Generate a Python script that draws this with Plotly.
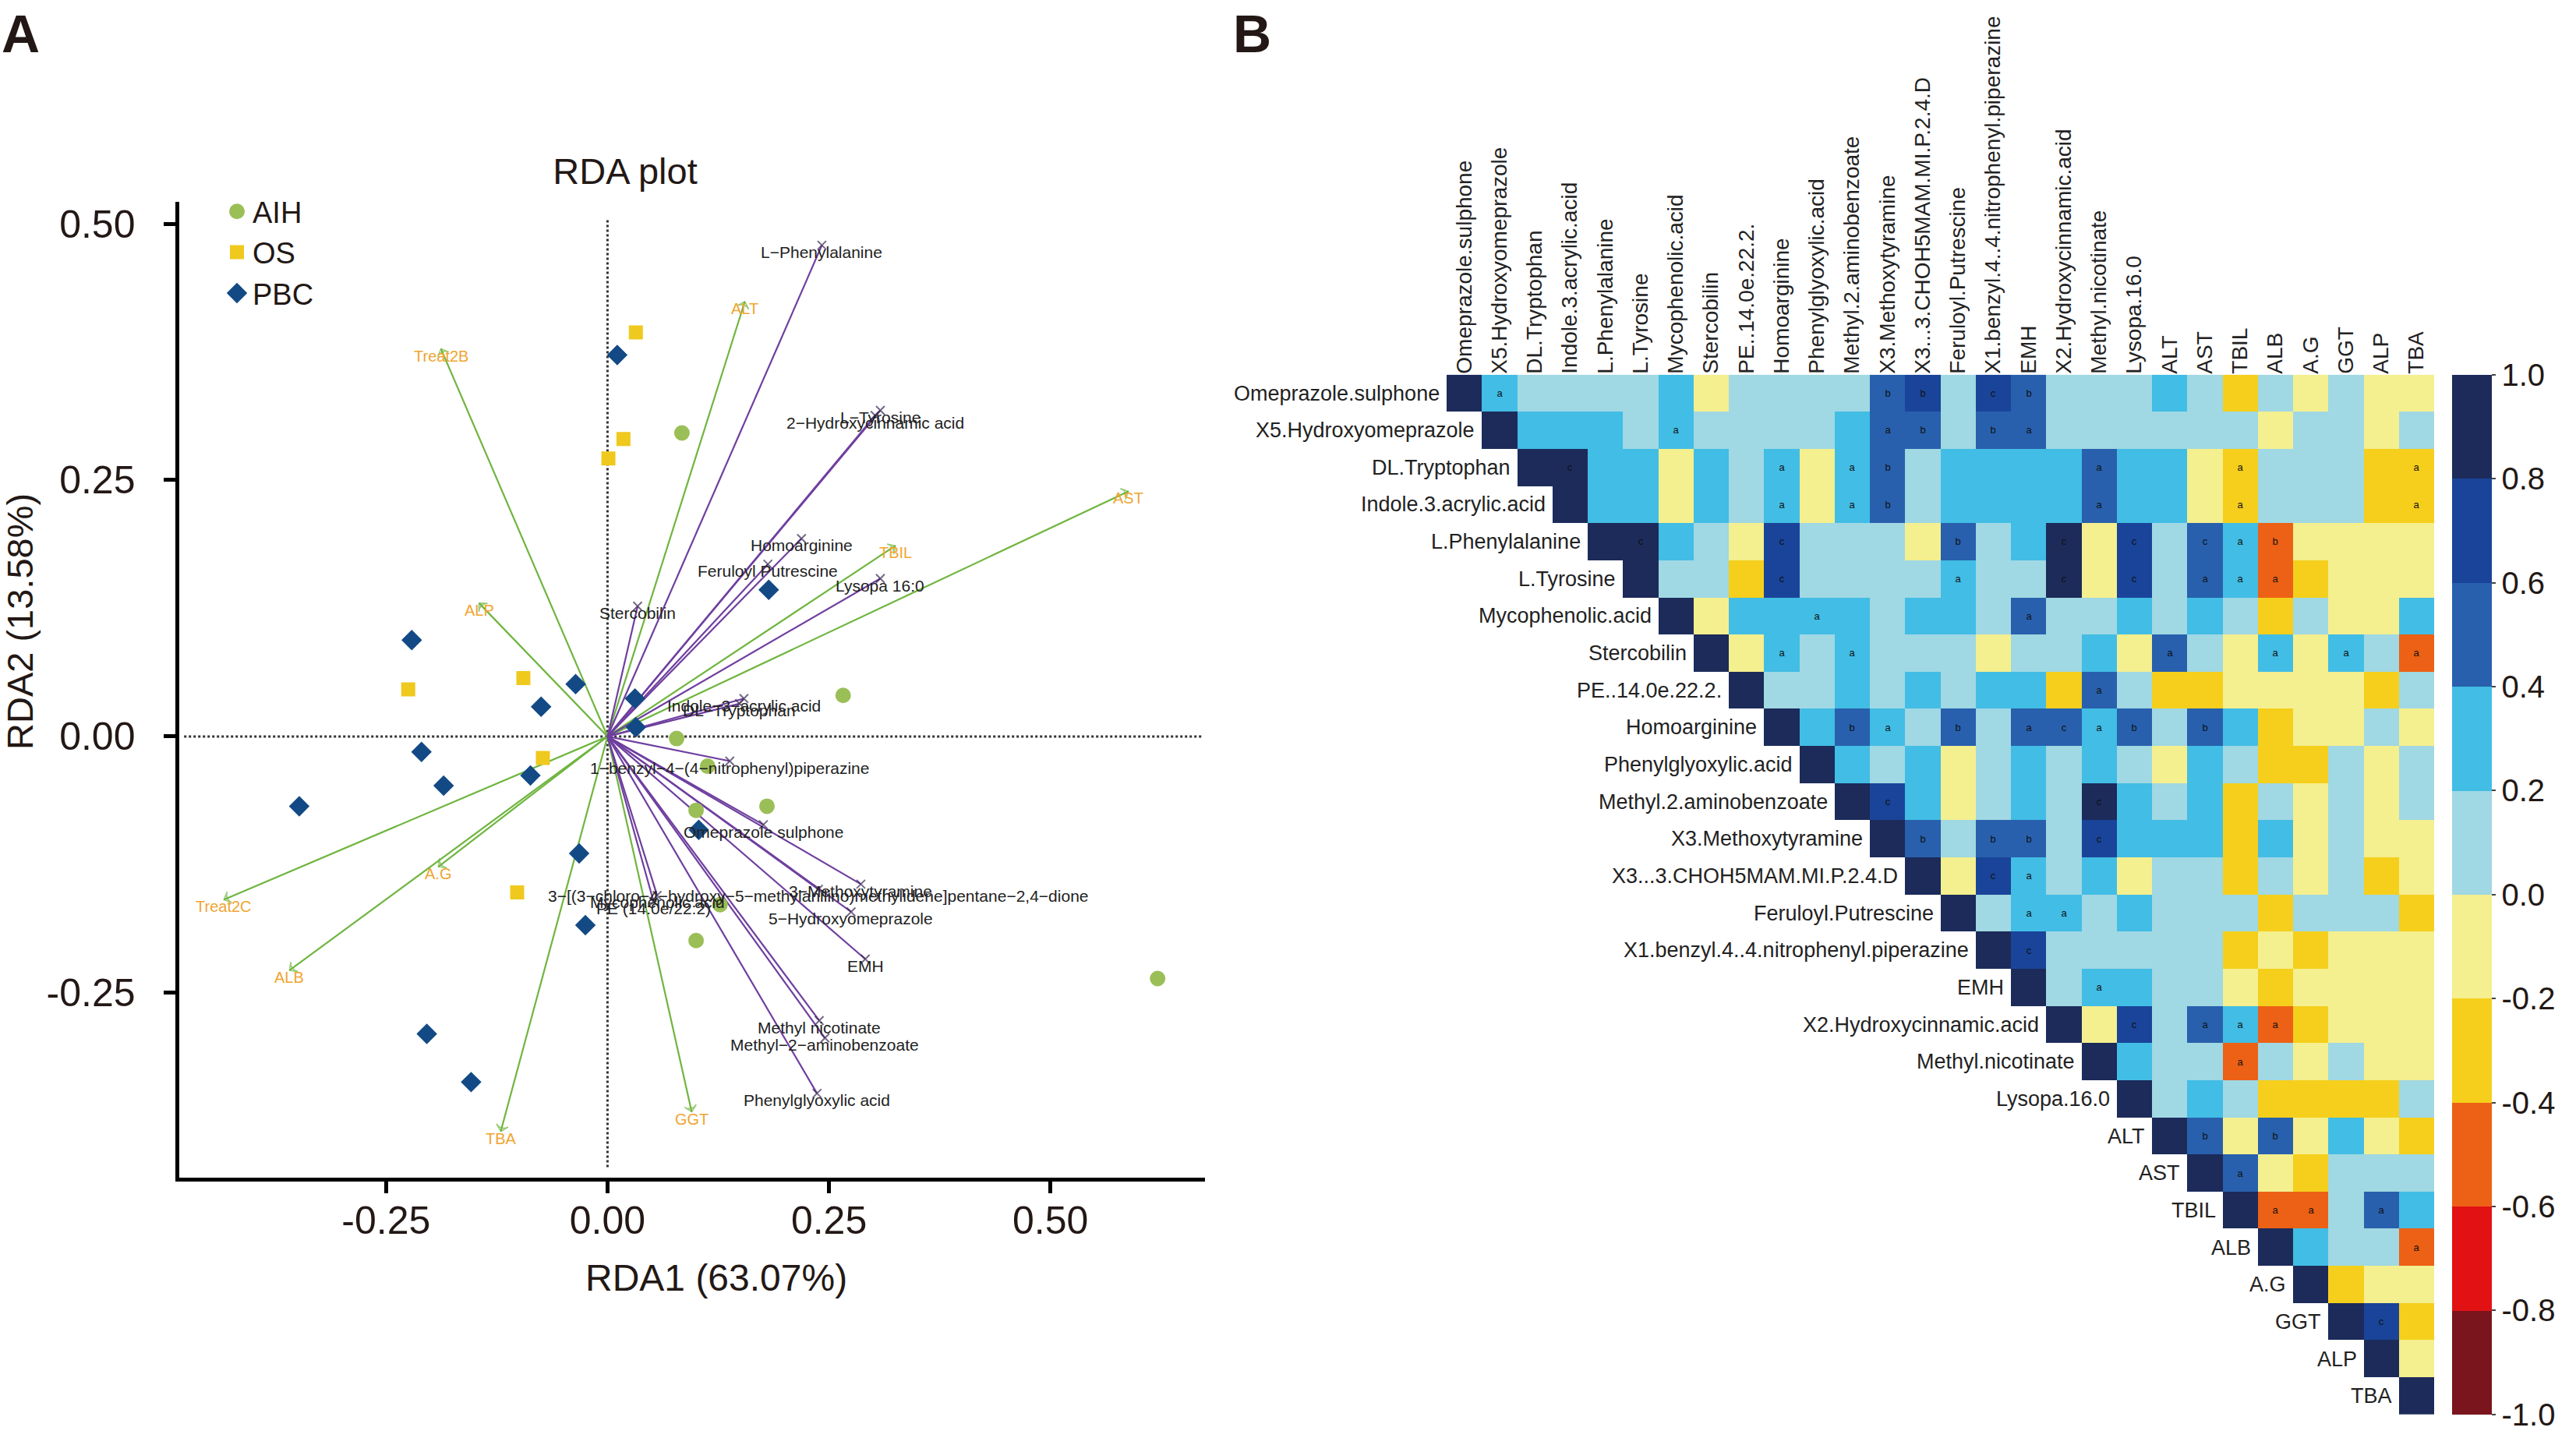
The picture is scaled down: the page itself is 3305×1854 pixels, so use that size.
import plotly.graph_objects as go

W, H = 3305, 1854
FONT = "Liberation Sans"

# ---------- Panel A data ----------
AIH_X = [0.084, 0.266, 0.078, 0.113, 0.100, 0.180, 0.127, 0.100, 0.621]
AIH_Y = [0.296, 0.040, -0.002, -0.029, -0.072, -0.068, -0.164, -0.199, -0.236]
OS_X = [0.032, 0.018, 0.001, -0.225, -0.095, -0.073, -0.102]
OS_Y = [0.394, 0.290, 0.271, 0.046, 0.057, -0.021, -0.152]
PBC_X = [0.011, 0.182, -0.221, -0.036, -0.075, 0.031, 0.032, -0.210, -0.185, -0.087, -0.348, 0.103, -0.032, -0.025, -0.204, -0.154]
PBC_Y = [0.372, 0.143, 0.094, 0.051, 0.029, 0.037, 0.009, -0.015, -0.048, -0.038, -0.068, -0.091, -0.114, -0.184, -0.290, -0.337]

ENV_NAMES = ["Treat2B", "ALT", "AST", "TBIL", "ALP", "Treat2C", "A.G", "ALB", "TBA", "GGT"]
ENV_X = [-0.188, 0.155, 0.588, 0.325, -0.145, -0.433, -0.191, -0.359, -0.1205, 0.095]
ENV_Y = [0.378, 0.424, 0.239, 0.186, 0.130, -0.159, -0.127, -0.228, -0.385, -0.366]

MET_NAMES = ["L-Phenylalanine", "L-Tyrosine", "2-Hydroxycinnamic acid", "Homoarginine", "Feruloyl Putrescine",
             "Lysopa 16:0", "Stercobilin", "Indole-3-acrylic acid", "DL-Tryptophan",
             "1-benzyl-4-(4-nitrophenyl)piperazine", "Omeprazole sulphone", "3-Methoxytyramine",
             "3-[(3-chloro-4-hydroxy-5-methylanilino)methylidene]pentane-2,4-dione", "5-Hydroxyomeprazole",
             "Mycophenolic acid", "PE (14:0e/22:2)", "EMH", "Methyl nicotinate", "Methyl-2-aminobenzoate",
             "Phenylglyoxylic acid"]
MET_X = [0.242, 0.308, 0.302, 0.219, 0.181, 0.308, 0.034, 0.154, 0.149, 0.138, 0.176, 0.286, 0.238, 0.275,
         0.056, 0.052, 0.291, 0.239, 0.2455, 0.2365]
MET_Y = [0.479, 0.318, 0.313, 0.193, 0.168, 0.154, 0.127, 0.037, 0.032, -0.024, -0.086, -0.144, -0.149, -0.171,
         -0.155, -0.161, -0.217, -0.277, -0.294, -0.348]
TICKS_A = [-0.25, 0.0, 0.25, 0.5]
TICK_LABELS_A = ["-0.25", "0.00", "0.25", "0.50"]

# ---------- Panel B data ----------
VARS_X = ["Omeprazole.sulphone", "X5.Hydroxyomeprazole", "DL.Tryptophan", "Indole.3.acrylic.acid", "L.Phenylalanine",
          "L.Tyrosine", "Mycophenolic.acid", "Stercobilin", "PE..14.0e.22.2.", "Homoarginine", "Phenylglyoxylic.acid",
          "Methyl.2.aminobenzoate", "X3.Methoxytyramine", "X3...3.CHOH5MAM.MI.P.2.4.D", "Feruloyl.Putrescine",
          "X1.benzyl.4..4.nitrophenyl.piperazine", "EMH", "X2.Hydroxycinnamic.acid", "Methyl.nicotinate", "Lysopa.16.0",
          "ALT", "AST", "TBIL", "ALB", "A.G", "GGT", "ALP", "TBA"]
# correlation estimated to its colour bin, one letter per bin
BIN_VALUE = {"N": 0.9, "D": 0.7, "M": 0.5, "C": 0.3, "L": 0.1, "Y": -0.1, "G": -0.3, "O": -0.5, "R": -0.7, "K": -0.9}
# rows start at the diagonal
CORR_ROWS = [
    "NCLLLLCYLLLLMDLDMLLLCLGLYLYY",
    "NCCCLCLLLLCMMLMMLLLLLLYLLYL",
    "NNCCYCLCYCMLCCCCMCCYGLLLGG",
    "NCCYCLCYCMLCCCCMCCYGLLLGG",
    "NNCLYDLLLYMLCNYDLMCOYYYY",
    "NLLGDLLLLCLLNYDLMCOGYYY",
    "NYCCCCLCCLMLLCLCLGLYYC",
    "NYCLCLLLYLLCYMLYCYCLO",
    "NLLCLCLCCGMLGGYYYYGL",
    "NCMCLMLMMCMLMCGYYLY",
    "NCLCYLCLCLYCLGGLYL",
    "NDCYLCLNCLCGLYLYL",
    "NMLMMLDCCCGCYLYY",
    "NYDCLCYLLGLYLGY",
    "NLCCLCLLLGLLLG",
    "NDLLLLLGYGYYY",
    "NLCCLLYGYYYY",
    "NYDLMCOGYYY",
    "NCLLOLYLYY",
    "NLCLGGGGL",
    "NMYMYCYG",
    "NMYGLLL",
    "NOOLMC",
    "NCLLO",
    "NGYY",
    "NDG",
    "NY",
    "N",
]
# significance letters: row -> {column: letter}
SIG = {
    0: {1: "a", 12: "b", 13: "b", 15: "c", 16: "b"},
    1: {6: "a", 12: "a", 13: "b", 15: "b", 16: "a"},
    2: {3: "c", 9: "a", 11: "a", 12: "b", 18: "a", 22: "a", 27: "a"},
    3: {9: "a", 11: "a", 12: "b", 18: "a", 22: "a", 27: "a"},
    4: {5: "c", 9: "c", 14: "b", 17: "c", 19: "c", 21: "c", 22: "a", 23: "b"},
    5: {9: "c", 14: "a", 17: "c", 19: "c", 21: "a", 22: "a", 23: "a"},
    6: {10: "a", 16: "a"},
    7: {9: "a", 11: "a", 20: "a", 23: "a", 25: "a", 27: "a"},
    8: {18: "a"},
    9: {11: "b", 12: "a", 14: "b", 16: "a", 17: "c", 18: "a", 19: "b", 21: "b"},
    11: {12: "c", 18: "c"},
    12: {13: "b", 15: "b", 16: "b", 18: "c"},
    13: {15: "c", 16: "a"},
    14: {16: "a", 17: "a"},
    15: {16: "c"},
    16: {18: "a"},
    17: {19: "c", 21: "a", 22: "a", 23: "a"},
    18: {22: "a"},
    20: {21: "b", 23: "b"},
    21: {22: "a"},
    22: {23: "a", 24: "a", 26: "a"},
    23: {27: "a"},
    25: {26: "c"},
}
CBAR_TICKS = [1.0, 0.8, 0.6, 0.4, 0.2, 0.0, -0.2, -0.4, -0.6, -0.8, -1.0]
CBAR_LABELS = ["1.0", "0.8", "0.6", "0.4", "0.2", "0.0", "-0.2", "-0.4", "-0.6", "-0.8", "-1.0"]
BIN_COLORS = ["#7A151D", "#E21214", "#EC6115", "#F5CF1C", "#F4EF8F", "#A0D8E3", "#42BDE5", "#2860AD", "#1A4499", "#1C2B5A"]

# ---------- styling ----------
C_AIH, C_OS, C_PBC = "#9BBF57", "#EFC91E", "#134A85"
C_ENV_LINE, C_MET_LINE, C_ENV_TXT = "#6FB53F", "#6F3F9F", "#F0A530"

n = len(VARS_X)
z = [[None] * n for _ in range(n)]
txt = [[""] * n for _ in range(n)]
for r, row in enumerate(CORR_ROWS):
    assert len(row) == n - r, (r, len(row))
    for k, ch in enumerate(row):
        z[r][r + k] = BIN_VALUE[ch]
    for c, s in SIG.get(r, {}).items():
        txt[r][c] = s

colorscale = []
for i, col in enumerate(BIN_COLORS):
    colorscale += [[i / 10, col], [(i + 1) / 10, col]]

fig = go.Figure()

# arrows
for name, x, y in zip(ENV_NAMES, ENV_X, ENV_Y):
    fig.add_trace(go.Scatter(x=[0, x], y=[0, y], mode="lines+markers", showlegend=False, hoverinfo="skip",
                             line=dict(color=C_ENV_LINE, width=2.2),
                             marker=dict(size=[0, 11], symbol="arrow-wide-open", angleref="previous",
                                         color=C_ENV_LINE, line=dict(width=1.6, color=C_ENV_LINE))))
for name, x, y in zip(MET_NAMES, MET_X, MET_Y):
    fig.add_trace(go.Scatter(x=[0, x], y=[0, y], mode="lines+markers", showlegend=False, hoverinfo="skip",
                             line=dict(color=C_MET_LINE, width=2.2),
                             marker=dict(size=[0, 11], symbol="x-thin", color="#3A2A55",
                                         line=dict(width=2, color="#3A2A55"))))

# samples
fig.add_trace(go.Scatter(x=AIH_X, y=AIH_Y, mode="markers", name="AIH",
                         marker=dict(symbol="circle", size=16, color=C_AIH, line=dict(width=4, color=C_AIH))))
fig.add_trace(go.Scatter(x=OS_X, y=OS_Y, mode="markers", name="OS",
                         marker=dict(symbol="square", size=14, color=C_OS, line=dict(width=4, color=C_OS))))
fig.add_trace(go.Scatter(x=PBC_X, y=PBC_Y, mode="markers", name="PBC",
                         marker=dict(symbol="diamond", size=16, color=C_PBC, line=dict(width=4, color=C_PBC))))

# heatmap
fig.add_trace(go.Heatmap(z=z, x=VARS_X, y=VARS_X, xaxis="x2", yaxis="y2", zmin=-1, zmax=1, text=txt,
                         texttemplate="%{text}", textfont=dict(size=13, color="#111111", family=FONT),
                         colorscale=colorscale, hoverongaps=False, xgap=0, ygap=0,
                         colorbar=dict(x=3146 / W, xanchor="left", xpad=0, ypad=0, y=1 - 480.7 / H, yanchor="top",
                                       len=1334.3, lenmode="pixels", thickness=51, thicknessmode="pixels",
                                       outlinewidth=0, tickmode="array", tickvals=CBAR_TICKS, ticktext=CBAR_LABELS,
                                       ticks="outside", ticklen=5, tickwidth=2, tickcolor="#444444",
                                       tickfont=dict(size=40, family=FONT, color="#231815"))))

ann = []
for name, x, y in zip(ENV_NAMES, ENV_X, ENV_Y):
    ann.append(dict(x=x, y=y, xref="x", yref="y", text=name, showarrow=False, yshift=-9,
                    xanchor="center", yanchor="middle",
                    font=dict(size=20, color=C_ENV_TXT, family=FONT)))
for name, x, y in zip(MET_NAMES, MET_X, MET_Y):
    ann.append(dict(x=x, y=y, xref="x", yref="y", text=name.replace("-", "\u2212"), showarrow=False, yshift=-9,
                    xanchor="center", yanchor="middle",
                    font=dict(size=21, color="#222222", family=FONT)))
for r, name in enumerate(VARS_X):
    ann.append(dict(x=r - 0.5, y=name, xref="x2", yref="y2", text=name, showarrow=False, xanchor="right",
                    yanchor="middle", xshift=-7, font=dict(size=27, color="#222222", family=FONT)))
ann += [
    dict(x=919 / W, y=1 - 1639 / H, xref="paper", yref="paper", text="RDA1 (63.07%)", showarrow=False,
         xanchor="center", yanchor="middle", font=dict(size=48, color="#231815", family=FONT)),
    dict(x=25 / W, y=1 - 798 / H, xref="paper", yref="paper", text="RDA2 (13.58%)", showarrow=False, textangle=-90,
         xanchor="center", yanchor="middle", font=dict(size=47, color="#231815", family=FONT)),
    dict(x=0 / W, y=1 - 43 / H, xref="paper", yref="paper", text="<b>A</b>", showarrow=False, xanchor="left",
         yanchor="middle", font=dict(size=68, color="#231815", family=FONT)),
    dict(x=1580 / W, y=1 - 43 / H, xref="paper", yref="paper", text="<b>B</b>", showarrow=False, xanchor="left",
         yanchor="middle", font=dict(size=68, color="#231815", family=FONT)),
]

dot = dict(color="#333333", width=3, dash="dot")
shapes = [
    dict(type="line", xref="x", yref="y", x0=0, x1=0, y0=-0.42, y1=0.505, line=dot, layer="below"),
    dict(type="line", xref="x", yref="y", x0=-0.478, x1=0.672, y0=0, y1=0, line=dot, layer="below"),
]

axis_a = dict(showgrid=False, zeroline=False, showline=True, linecolor="black", linewidth=5, ticks="outside",
              ticklen=15, tickwidth=5, tickcolor="black", tickmode="array", tickvals=TICKS_A, ticktext=TICK_LABELS_A,
              tickfont=dict(size=50, family=FONT, color="#231815"))
fig.update_layout(
    width=W, height=H, margin=dict(l=0, r=0, t=0, b=0), paper_bgcolor="white", plot_bgcolor="white",
    font=dict(family=FONT),
    title=dict(text="RDA plot", x=802 / W, y=1 - 220 / H, xanchor="center", yanchor="middle",
               font=dict(size=47, family=FONT, color="#231815")),
    xaxis=dict(axis_a, domain=[229.5 / W, 1546 / W], range=[-0.4839, 0.6745], anchor="y", ticklabelstandoff=-8),
    yaxis=dict(axis_a, domain=[1 - 1511 / H, 1 - 259 / H], range=[-0.4302, 0.5213], anchor="x", ticklabelstandoff=26),
    xaxis2=dict(domain=[1856 / W, 3123 / W], side="top", anchor="y2", showgrid=False, zeroline=False, ticks="",
                tickangle=-90, type="category", tickfont=dict(size=28, family=FONT, color="#222222"),
                tickmode="linear", dtick=1, range=[-0.5, 27.5], autorange=False),
    yaxis2=dict(domain=[1 - 1815 / H, 1 - 480.7 / H], anchor="x2", showgrid=False, zeroline=False, ticks="",
                showticklabels=False, type="category", range=[27.5, -0.5], autorange=False),
    legend=dict(x=284 / W, y=1 - 240 / H, xanchor="left", yanchor="top", bgcolor="rgba(0,0,0,0)",
                font=dict(size=38, family=FONT, color="#231815"), tracegroupgap=0),
    annotations=ann, shapes=shapes,
)

fig.write_html("out.html", post_script="document.body.style.margin='0';", config={"displayModeBar": False})
